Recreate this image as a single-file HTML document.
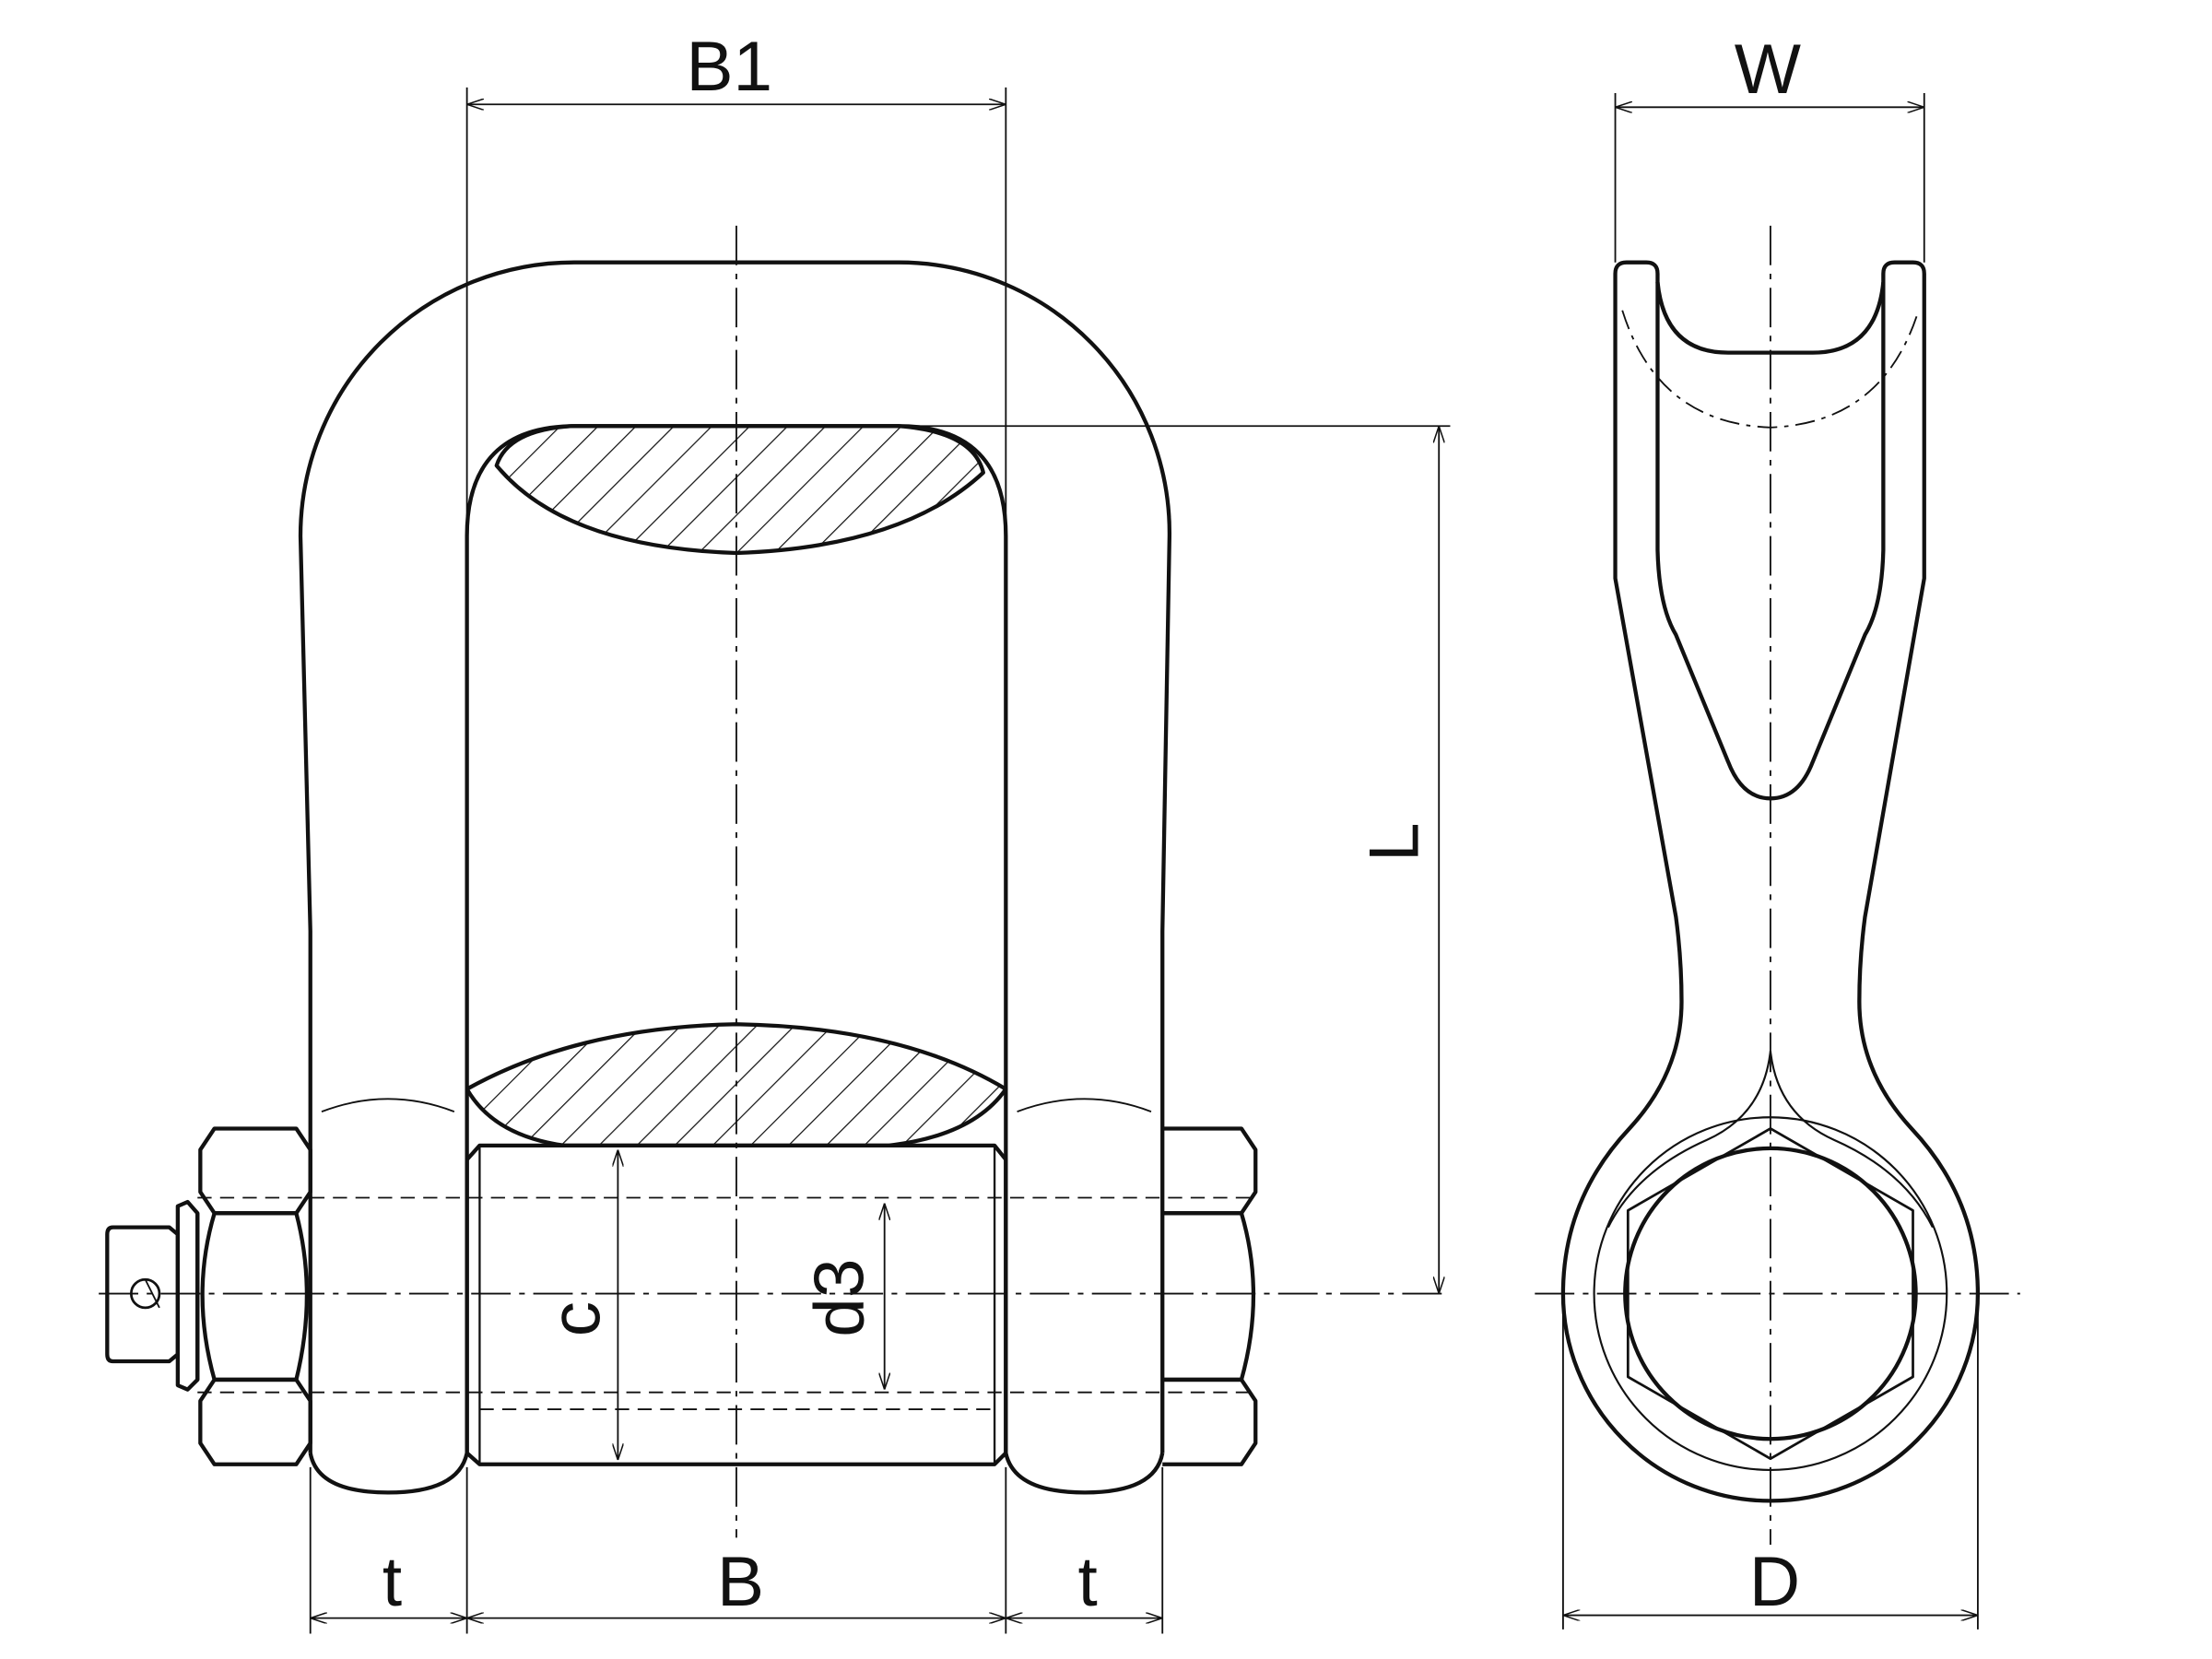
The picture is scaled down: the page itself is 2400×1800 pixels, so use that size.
<!DOCTYPE html>
<html><head><meta charset="utf-8"><style>html,body{margin:0;padding:0;background:#fff}svg{display:block}</style></head><body>
<svg width="2400" height="1800" viewBox="0 0 1568 1176" xmlns="http://www.w3.org/2000/svg">
<defs>
<pattern id="h" patternUnits="userSpaceOnUse" width="19" height="19" patternTransform="rotate(45)"><line x1="0" y1="0" x2="0" y2="19" stroke="#111" stroke-width="1.6"/></pattern>
<marker id="a" markerWidth="12" markerHeight="8" refX="12" refY="4" orient="auto-start-reverse" markerUnits="userSpaceOnUse"><path d="M0,0 L12,4 L0,8" fill="none" stroke="#111" stroke-width="1"/></marker>
</defs>
<g fill="none" stroke="#111" stroke-width="2.8" stroke-linejoin="round">
<path d="M220,1030 L220,660 L213,380 A194,194 0 0 1 407,186 L637,186 A192,192 0 0 1 829,380 L824,660 L824,1030"/>
<path d="M331,1030 L331,380 Q331,302 408,302 L637,302 Q713,302 713,380 L713,1030"/>
<path d="M352,330 Q360,305 405,302 L637,302 Q690,306 697,335 Q640,388 522,392 Q400,388 352,330 Z" fill="url(#h)"/>
<path d="M331,772 Q410,728 522,726 Q640,728 713,772 Q690,805 630,812 L400,812 Q350,805 331,772 Z" fill="url(#h)"/>
<path d="M220,1030 Q225,1058 275,1058 Q325,1058 331,1030"/>
<path d="M713,1030 Q719,1058 769,1058 Q819,1058 824,1030"/>
<path d="M228,788 Q275,770 322,788" stroke-width="1.2"/>
<path d="M721,788 Q769,770 816,788" stroke-width="1.2"/>
<path d="M331,1030 L331,822 L340,812 L705,812 L713,822 L713,1030 L705,1038 L340,1038 Z"/>
<line x1="340" y1="812" x2="340" y2="1038" stroke-width="1.5"/>
<line x1="705" y1="812" x2="705" y2="1038" stroke-width="1.5"/>
<path d="M152,800 L210,800 L220,815 L220,845 L210,860 L152,860 L142,845 L142,815 Z"/>
<path d="M152,860 L210,860 Q225,917 210,978 L152,978 Q135,917 152,860 Z"/>
<path d="M152,978 L210,978 L220,993 L220,1023 L210,1038 L152,1038 L142,1023 L142,993 Z"/>
<path d="M140,860 L140,978"/>
<path d="M126,855 L133,852 L140,860 L140,978 L133,985 L126,982 Z"/>
<path d="M80,870 L120,870 L126,875 L126,960 L120,965 L80,965 Q76,965 76,960 L76,875 Q76,870 80,870 Z"/>
<circle cx="103" cy="917" r="10" stroke-width="1.8"/>
<line x1="103" y1="907" x2="113" y2="927" stroke-width="1.2"/>
<path d="M824,800 L880,800 L890,815 L890,845 L880,860 L824,860"/>
<path d="M824,860 L880,860 Q897,917 880,978 L824,978"/>
<path d="M824,978 L880,978 L890,993 L890,1023 L880,1038 L824,1038"/>
</g>
<g fill="none" stroke="#111" stroke-width="1.2">
<line x1="140" y1="849" x2="890" y2="849" stroke-dasharray="10,6"/>
<line x1="140" y1="987" x2="890" y2="987" stroke-dasharray="10,6"/>
<line x1="340" y1="999" x2="705" y2="999" stroke-dasharray="10,6"/>
<line x1="70" y1="917" x2="1025" y2="917" stroke-dasharray="28,6,4,6"/>
<line x1="522" y1="160" x2="522" y2="1090" stroke-dasharray="28,6,4,6"/>
<line x1="331" y1="62" x2="331" y2="380"/><line x1="713" y1="62" x2="713" y2="380"/>
<line x1="331" y1="74" x2="713" y2="74" marker-start="url(#a)" marker-end="url(#a)"/>
<line x1="637" y1="302" x2="1028" y2="302"/>
<line x1="1020" y1="302" x2="1020" y2="917" marker-start="url(#a)" marker-end="url(#a)"/>
<line x1="220" y1="1040" x2="220" y2="1158"/><line x1="331" y1="1040" x2="331" y2="1158"/>
<line x1="713" y1="1040" x2="713" y2="1158"/><line x1="824" y1="1040" x2="824" y2="1158"/>
<line x1="220" y1="1147" x2="331" y2="1147" marker-start="url(#a)" marker-end="url(#a)"/>
<line x1="331" y1="1147" x2="713" y2="1147" marker-start="url(#a)" marker-end="url(#a)"/>
<line x1="713" y1="1147" x2="824" y2="1147" marker-start="url(#a)" marker-end="url(#a)"/>
<line x1="438" y1="815" x2="438" y2="1035" marker-start="url(#a)" marker-end="url(#a)"/>
<line x1="627" y1="853" x2="627" y2="985" marker-start="url(#a)" marker-end="url(#a)"/>
<line x1="1145" y1="66" x2="1145" y2="186"/><line x1="1364" y1="66" x2="1364" y2="186"/>
<line x1="1145" y1="76" x2="1364" y2="76" marker-start="url(#a)" marker-end="url(#a)"/>
<line x1="1108" y1="930" x2="1108" y2="1155"/><line x1="1402" y1="930" x2="1402" y2="1155"/>
<line x1="1108" y1="1145" x2="1402" y2="1145" marker-start="url(#a)" marker-end="url(#a)"/>
<line x1="1088" y1="917" x2="1432" y2="917" stroke-dasharray="28,6,4,6"/>
<line x1="1255" y1="160" x2="1255" y2="1095" stroke-dasharray="28,6,4,6"/>
</g>
<g fill="none" stroke="#111" stroke-width="2.8" stroke-linejoin="round">
<path d="M1145,194 Q1145,186 1153,186 L1167,186 Q1175,186 1175,194 L1175,200 Q1180,250 1225,250 L1285,250 Q1330,250 1335,200 L1335,194 Q1335,186 1343,186 L1356,186 Q1364,186 1364,194 L1364,410 L1322,650 Q1318,680 1318,710 Q1318,760 1355,800 Q1402,850 1402,917 A147,147 0 0 1 1108,917 Q1108,850 1155,800 Q1192,760 1192,710 Q1192,680 1188,650 L1145,410 Z"/>
<path d="M1175,200 L1175,390 Q1176,430 1188,450 L1225,540 Q1235,566 1255,566 Q1275,566 1285,540 L1322,450 Q1334,430 1335,390 L1335,200"/>
<path d="M1255,745 Q1250,790 1210,808 Q1160,830 1140,870" stroke-width="1.4"/>
<path d="M1255,745 Q1260,790 1300,808 Q1350,830 1370,870" stroke-width="1.4"/>
<circle cx="1255" cy="917" r="125" stroke-width="1.4"/>
<circle cx="1255" cy="917" r="103"/>
<path d="M1255,800 L1356,858 L1356,976 L1255,1034 L1154,976 L1154,858 Z" stroke-width="1.8"/>
<path d="M1150,220 Q1175,300 1255,303 Q1335,300 1360,220" stroke-dasharray="14,5,3,5" stroke-width="1.2"/>
</g>
<g font-family="Liberation Sans, sans-serif" font-size="50" fill="#111" text-anchor="middle">
<text x="517" y="64">B1</text>
<text x="1253" y="66">W</text>
<text x="278" y="1138">t</text>
<text x="525" y="1138">B</text>
<text x="771" y="1138">t</text>
<text x="1258" y="1138">D</text>
<text transform="translate(1005,597) rotate(-90)">L</text>
<text transform="translate(425,935) rotate(-90)">c</text>
<text transform="translate(612,920) rotate(-90)">d3</text>
</g>
</svg>
</body></html>
